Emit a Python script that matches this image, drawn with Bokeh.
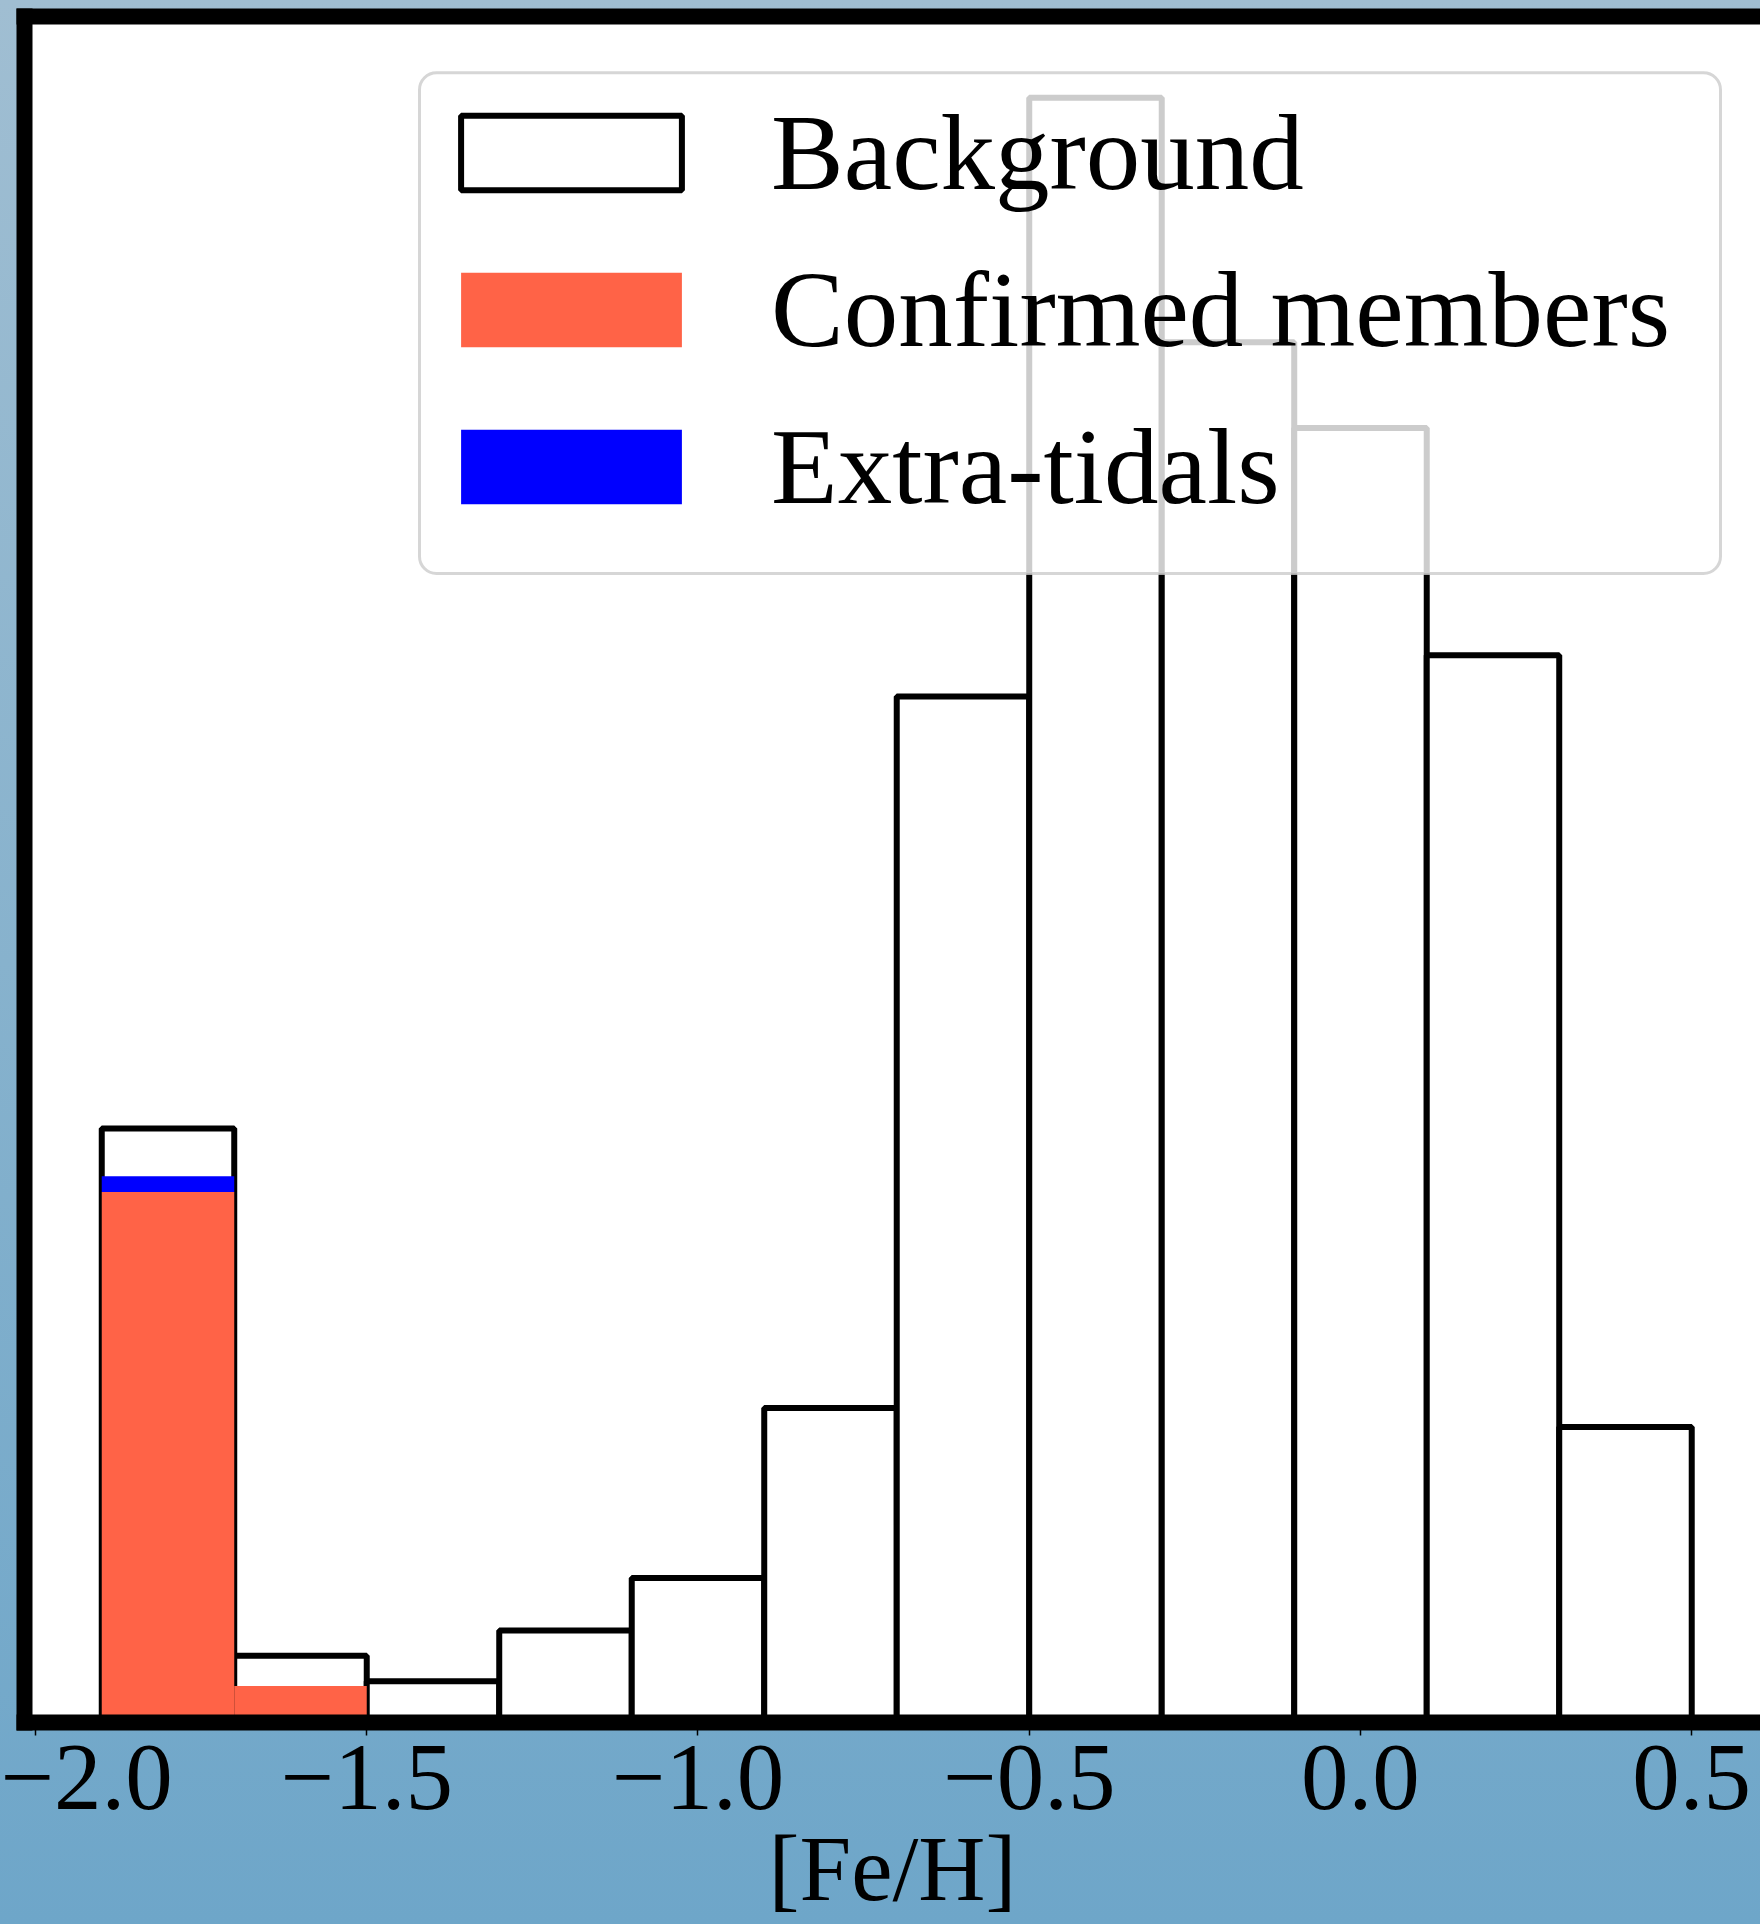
from bokeh.plotting import figure
from bokeh.models import (Range1d, LinearAxis, FixedTicker, Legend, LegendItem,
                          BoxAnnotation)
from bokeh.embed import file_html
from bokeh.resources import INLINE

# ---------------- data ----------------
bin_edges = [-1.9, -1.7, -1.5, -1.3, -1.1, -0.9, -0.7, -0.5, -0.3, -0.1, 0.1, 0.3, 0.5]
background = [0.374, 0.042, 0.026, 0.058, 0.091, 0.198, 0.646, 1.023, 0.869, 0.815, 0.672, 0.186]
confirmed = [0.334, 0.023, 0, 0, 0, 0, 0, 0, 0, 0, 0, 0]
extra_tidals = [0.010, 0, 0, 0, 0, 0, 0, 0, 0, 0, 0, 0]
x_ticks = [-2.0, -1.5, -1.0, -0.5, 0.0, 0.5]
x_tick_labels = ["\u22122.0", "\u22121.5", "\u22121.0", "\u22120.5", "0.0", "0.5"]
x_label = "[Fe/H]"
legend_labels = ["Background", "Confirmed members", "Extra-tidals"]

# ---------------- layout ----------------
W, H = 1760, 1924
FL, FT, FB = 24, 16, 1722          # frame left / top / bottom (px)
x_start, x_end = -2.0166, 0.6038
y_end = 1.05 * max(background)
SERIF = "Liberation Serif"

def x_at(px):
    return x_start + (px - FL) / (W - FL) * (x_end - x_start)

def y_at(py):
    return (FB - py) / (FB - FT) * y_end

p = figure(width=W, height=H, output_backend="svg", toolbar_location=None,
           x_range=Range1d(x_start, x_end), y_range=Range1d(0, y_end),
           min_border_left=FL, min_border_right=0, min_border_top=FT,
           min_border_bottom=H - FB)
p.xgrid.visible = False
p.ygrid.visible = False
p.outline_line_color = None
p.background_fill_color = "white"
p.border_fill_color = None
p.styles = {"background": "linear-gradient(to bottom, #a0bed2 0%, #87b2cd 50%, #6ea6c9 100%)"}

left_edges = bin_edges[:-1]
right_edges = bin_edges[1:]
stack_top = [c + e for c, e in zip(confirmed, extra_tidals)]

r_bg = p.quad(left=left_edges, right=right_edges, bottom=0, top=background,
              fill_color="white", line_color="black", line_width=6)
r_conf = p.quad(left=left_edges, right=right_edges, bottom=0, top=confirmed,
                fill_color="#ff6347", line_color=None)
r_ext = p.quad(left=left_edges, right=right_edges, bottom=confirmed, top=stack_top,
               fill_color="#0000ff", line_color=None)

# ---- spines / axes ----
xa = p.xaxis[0]
xa.ticker = FixedTicker(ticks=x_ticks, minor_ticks=[])
xa.major_label_overrides = {t: s for t, s in zip(x_ticks, x_tick_labels)}
xa.axis_line_width = 16
xa.axis_line_cap = "square"
xa.major_tick_out = 13
xa.major_tick_in = 0
xa.major_tick_line_width = 1.5
xa.minor_tick_out = 0
xa.minor_tick_in = 0
xa.major_label_text_font = SERIF
xa.major_label_text_font_size = "95px"
xa.major_label_text_color = "black"
xa.major_label_standoff = 10
xa.axis_label = x_label
xa.axis_label_text_font = SERIF
xa.axis_label_text_font_size = "93px"
xa.axis_label_text_font_style = "normal"
xa.axis_label_text_color = "black"
xa.axis_label_standoff = 5

ya = p.yaxis[0]
ya.ticker = FixedTicker(ticks=[], minor_ticks=[])
ya.major_label_text_font_size = "0px"
ya.major_label_standoff = 0
ya.major_tick_out = 0
ya.minor_tick_out = 0
ya.axis_line_width = 16
ya.axis_line_cap = "square"

top_axis = LinearAxis(ticker=FixedTicker(ticks=[], minor_ticks=[]),
                      major_label_text_font_size="0px", major_label_standoff=0,
                      major_tick_out=0, minor_tick_out=0,
                      axis_line_width=16, axis_line_cap="square")
p.add_layout(top_axis, "above")

# ---- legend frame ----
box_kw = dict(left=x_at(419), right=x_at(1720), top=y_at(72.3), bottom=y_at(573),
              fill_color="white", fill_alpha=0.8,
              line_color="#cccccc", line_alpha=0.8, line_width=3)
if "border_radius" in BoxAnnotation.properties():
    box_kw["border_radius"] = 17
p.add_layout(BoxAnnotation(**box_kw))

legend = Legend(items=[LegendItem(label=legend_labels[0], renderers=[r_bg]),
                       LegendItem(label=legend_labels[1], renderers=[r_conf]),
                       LegendItem(label=legend_labels[2], renderers=[r_ext])],
                location=(409.1, 1176.9),
                background_fill_alpha=0, border_line_alpha=0,
                padding=0, margin=0, spacing=0,
                glyph_width=276, glyph_height=93, label_height=157,
                label_standoff=62,
                label_text_font=SERIF, label_text_font_size="109px",
                label_text_color="black")
p.add_layout(legend)

open("out.html", "w").write(file_html(p, INLINE))
